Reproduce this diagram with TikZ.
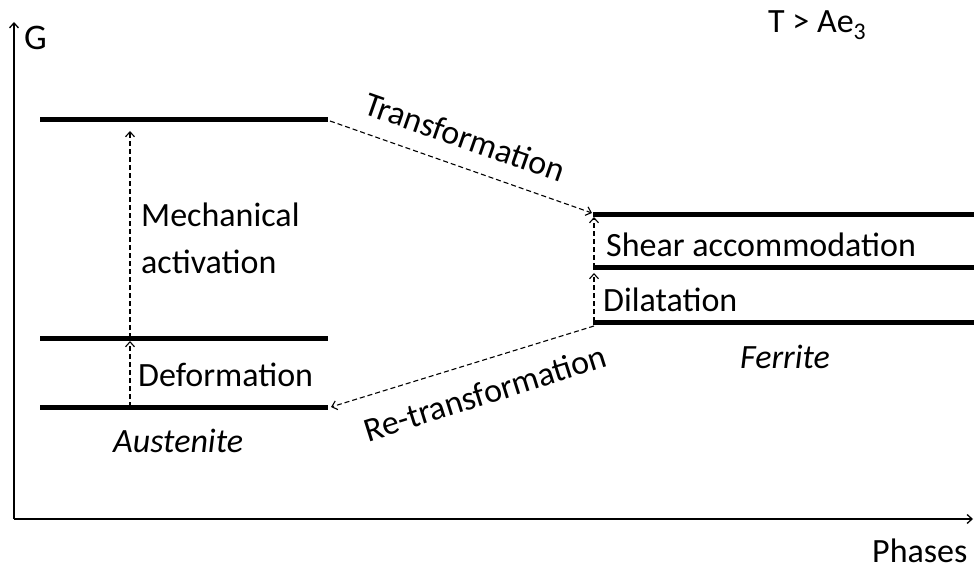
\documentclass[tikz,border=0pt]{standalone}
\usepackage{fontspec}
\setmainfont{Carlito}
\usetikzlibrary{arrows.meta}
\begin{document}
\begin{tikzpicture}[x=1pt,y=1pt,
  level/.style={line width=5pt},
  axis/.style={line width=1.3pt,-{Straight Barb[length=5pt,width=9pt]}},
  trans/.style={line width=1.1pt,dash pattern=on 5pt off 3pt,-{Straight Barb[length=5pt,width=9pt]}},
  lbl/.style={font=\fontsize{34}{47}\selectfont, inner sep=0pt},
  ilbl/.style={lbl, font=\fontsize{34}{47}\selectfont\itshape}
]
\useasboundingbox (0,0) rectangle (974,-569);
% axes
\coordinate (O) at (14,-519);
\coordinate (Ytop) at (14,-22);
\coordinate (Xend) at (973,-519);
\draw[axis] (O) -- (Ytop);
\draw[axis] (O) -- (Xend);
\node[lbl, anchor=base west, font=\fontsize{36}{40}\selectfont] (G) at (24,-50) {G};
\node[lbl, anchor=base west] (T) at (768,-33) {T > Ae\textsubscript{3}};
\node[lbl, anchor=base west] (ph) at (872,-562) {Phases};
% austenite levels
\coordinate (a1l) at (40,-120); \coordinate (a1r) at (328,-120);
\coordinate (a2l) at (40,-338); \coordinate (a2r) at (328,-338);
\coordinate (a3l) at (40,-407); \coordinate (a3r) at (328,-407);
\draw[level] (a1l) -- (a1r);
\draw[level] (a2l) -- (a2r);
\draw[level] (a3l) -- (a3r);
% ferrite levels
\coordinate (f1l) at (593,-215); \coordinate (f1r) at (974,-215);
\coordinate (f2l) at (593,-268); \coordinate (f2r) at (974,-268);
\coordinate (f3l) at (593,-322); \coordinate (f3r) at (974,-322);
\draw[level] (f1l) -- (f1r);
\draw[level] (f2l) -- (f2r);
\draw[level] (f3l) -- (f3r);
% vertical activation arrows
\coordinate (d0) at (130,-407); \coordinate (d1) at (130,-341);
\coordinate (m0) at (130,-338); \coordinate (m1) at (130,-131);
\draw[trans] (d0) -- (d1);
\draw[trans] (m0) -- (m1);
\coordinate (s0) at (594,-322); \coordinate (s1) at (594,-273);
\coordinate (h0) at (594,-268); \coordinate (h1) at (594,-217);
\draw[trans] (s0) -- (s1);
\draw[trans] (h0) -- (h1);
% transformation arrows
\coordinate (t0) at (330,-121); \coordinate (t1) at (592,-213);
\draw[trans] (t0) -- (t1);
\coordinate (r0) at (594,-326); \coordinate (r1) at (331,-407);
\draw[trans] (r0) -- (r1);
% labels
\node[lbl, anchor=center, rotate=-19.3] (tl) at (465,-137) {Transformation};
\node[lbl, anchor=center, rotate=17.5] (rl) at (485,-393) {Re-transformation};
\node[lbl, anchor=north west, align=left] (mech) at (141,-203) {Mechanical\\activation};
\node[lbl, anchor=base west] (def) at (138,-386) {Deformation};
\node[ilbl, anchor=base west] (aus) at (113,-452) {Austenite};
\node[lbl, anchor=base west] (shear) at (606,-257) {Shear accommodation};
\node[lbl, anchor=base west] (dil) at (603,-311) {Dilatation};
\node[ilbl, anchor=base west] (fer) at (740,-368) {Ferrite};
\end{tikzpicture}
\end{document}
